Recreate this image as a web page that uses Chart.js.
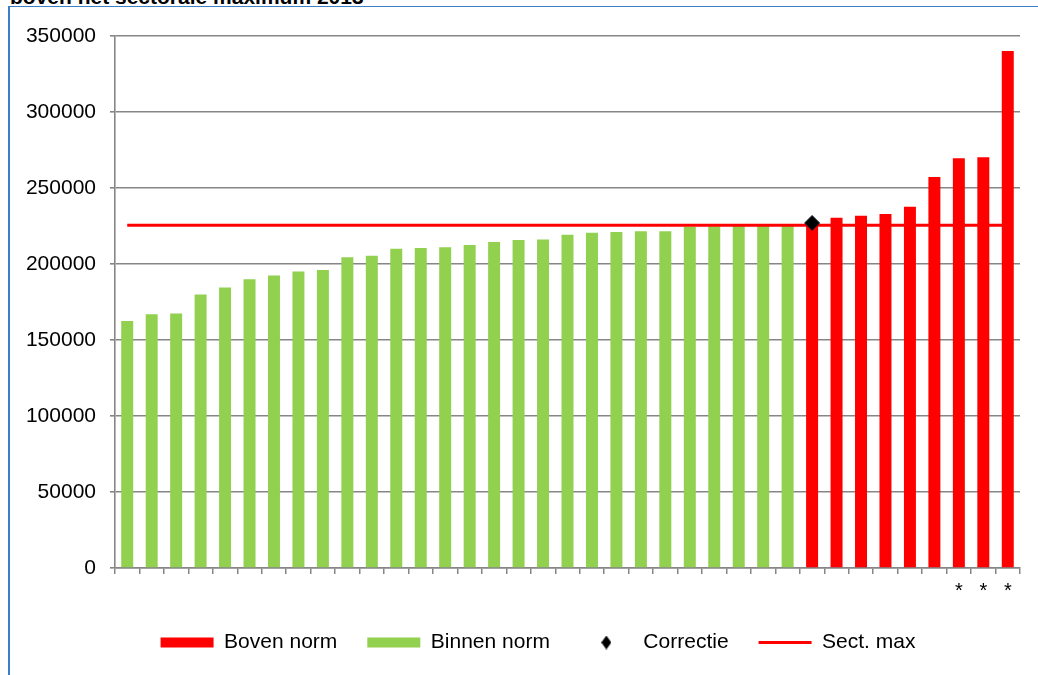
<!DOCTYPE html>
<html>
<head>
<meta charset="utf-8">
<title>Boven het sectorale maximum 2013</title>
<script src="https://cdn.jsdelivr.net/npm/chart.js@4.4.0/dist/chart.umd.min.js"></script>
<style>
  html, body { margin: 0; padding: 0; background: #fff; overflow: hidden; }
  #title { position: absolute; left: 10px; top: -14px; font: bold 21px "Liberation Sans", Arial, sans-serif; line-height: 21px; white-space: nowrap; }
  #frame { position: absolute; left: 8px; top: 6px; width: 1100px; height: 700px; border-left: 2px solid #3d7fc4; border-top: 1px solid #3d7fc4; }
  #chart { position: absolute; left: 0; top: 0; }
</style>
</head>
<body>
<div id="title">boven het sectorale maximum 2013</div>
<div id="frame"></div>
<canvas id="chart" width="1038" height="675"></canvas>
<script>
// values, sorted low -> high
const binnenNorm = [162500, 167000, 167500, 180000, 184500, 190000, 192500, 195000, 196000,
  204500, 205500, 210000, 210500, 211000, 212500, 214500, 215800, 216200, 219300, 220600,
  221000, 221500, 221500, 224500, 224800, 225000, 225000, 225000];
const bovenNorm = [226000, 230500, 231800, 232900, 237700, 257200, 269500, 270200, 340100];
const sectMax = 225500;
const correctieIndex = 28;
const correctieValue = 227000;
const tickLabels = ['', '', '', '', '', '', '', '', '', '', '', '', '', '', '', '', '', '',
  '', '', '', '', '', '', '', '', '', '', '', '', '', '', '', '', '*', '*', '*'];

const greenData = tickLabels.map((_, i) => i < binnenNorm.length ? binnenNorm[i] : null);
const redData = tickLabels.map((_, i) => i >= binnenNorm.length ? bovenNorm[i - binnenNorm.length] : null);
const lineData = tickLabels.map(() => sectMax);
const corrData = tickLabels.map((_, i) => i === correctieIndex ? correctieValue : null);

const FONT = '"Liberation Sans", Arial, sans-serif';
Chart.defaults.font.family = FONT;
Chart.defaults.font.size = 21;
Chart.defaults.color = '#000';

// small diamond for the legend entry
const diamond = document.createElement('canvas');
diamond.width = 10; diamond.height = 14;
(function () {
  const c = diamond.getContext('2d');
  c.fillStyle = '#000';
  c.beginPath();
  c.moveTo(5, 0); c.lineTo(10, 7); c.lineTo(5, 14); c.lineTo(0, 7);
  c.closePath(); c.fill();
})();

const gridGrey = '#868686';

// legend sits a bit right of centre in the original
const shiftLegend = {
  id: 'shiftLegend',
  afterLayout(chart) {
    chart.legend.left += 28;
    chart.legend.right += 28;
  }
};

new Chart(document.getElementById('chart'), {
  data: {
    labels: tickLabels,
    datasets: [
      { type: 'bar', label: 'Boven norm', data: redData, backgroundColor: '#ff0000',
        barPercentage: 0.49, categoryPercentage: 1, order: 3 },
      { type: 'bar', label: 'Binnen norm', data: greenData, backgroundColor: '#92d050',
        barPercentage: 0.49, categoryPercentage: 1, order: 3 },
      { type: 'line', label: 'Correctie', data: corrData, showLine: false,
        pointStyle: 'rectRot', pointRadius: 7.5, pointBackgroundColor: '#000',
        pointBorderColor: '#1a1a2a', pointBorderWidth: 1, order: 1 },
      { type: 'line', label: 'Sect. max', data: lineData, borderColor: '#ff0000',
        borderWidth: 3, pointRadius: 0, fill: false, order: 2 }
    ]
  },
  options: {
    responsive: false,
    animation: false,
    devicePixelRatio: 1,
    layout: { padding: { left: 0, top: 36, right: 18, bottom: 12 } },
    scales: {
      x: {
        stacked: true,
        offset: true,
        grid: { display: true, drawOnChartArea: false, drawTicks: true, tickLength: 6, color: gridGrey, lineWidth: 1.5, offset: true },
        border: { color: gridGrey, width: 1.5 },
        ticks: { autoSkip: false, maxRotation: 0, padding: 5, font: { size: 20 } },
        afterFit: s => { s.height = 34; }
      },
      y: {
        min: 0, max: 350000,
        grid: { color: gridGrey, lineWidth: 1.6, tickLength: 5 },
        border: { color: gridGrey, width: 1.6 },
        ticks: { stepSize: 50000, padding: 14, callback: v => String(v) },
        afterFit: s => { s.width = 115; }
      }
    },
    plugins: {
      tooltip: { enabled: false },
      legend: {
        position: 'bottom',
        labels: {
          usePointStyle: true,
          pointStyleWidth: 53,
          boxHeight: 10,
          padding: 30,
          generateLabels: () => [
            { text: 'Boven norm', fillStyle: '#ff0000', strokeStyle: '#ff0000', lineWidth: 0, pointStyle: 'rect', datasetIndex: 0 },
            { text: 'Binnen norm', fillStyle: '#92d050', strokeStyle: '#92d050', lineWidth: 0, pointStyle: 'rect', datasetIndex: 1 },
            { text: 'Correctie', fillStyle: '#000', strokeStyle: '#000', lineWidth: 0, pointStyle: diamond, datasetIndex: 2 },
            { text: 'Sect. max', fillStyle: '#ff0000', strokeStyle: '#ff0000', lineWidth: 3, pointStyle: 'line', datasetIndex: 3 }
          ]
        }
      }
    }
  },
  plugins: [shiftLegend]
});
</script>
</body>
</html>
